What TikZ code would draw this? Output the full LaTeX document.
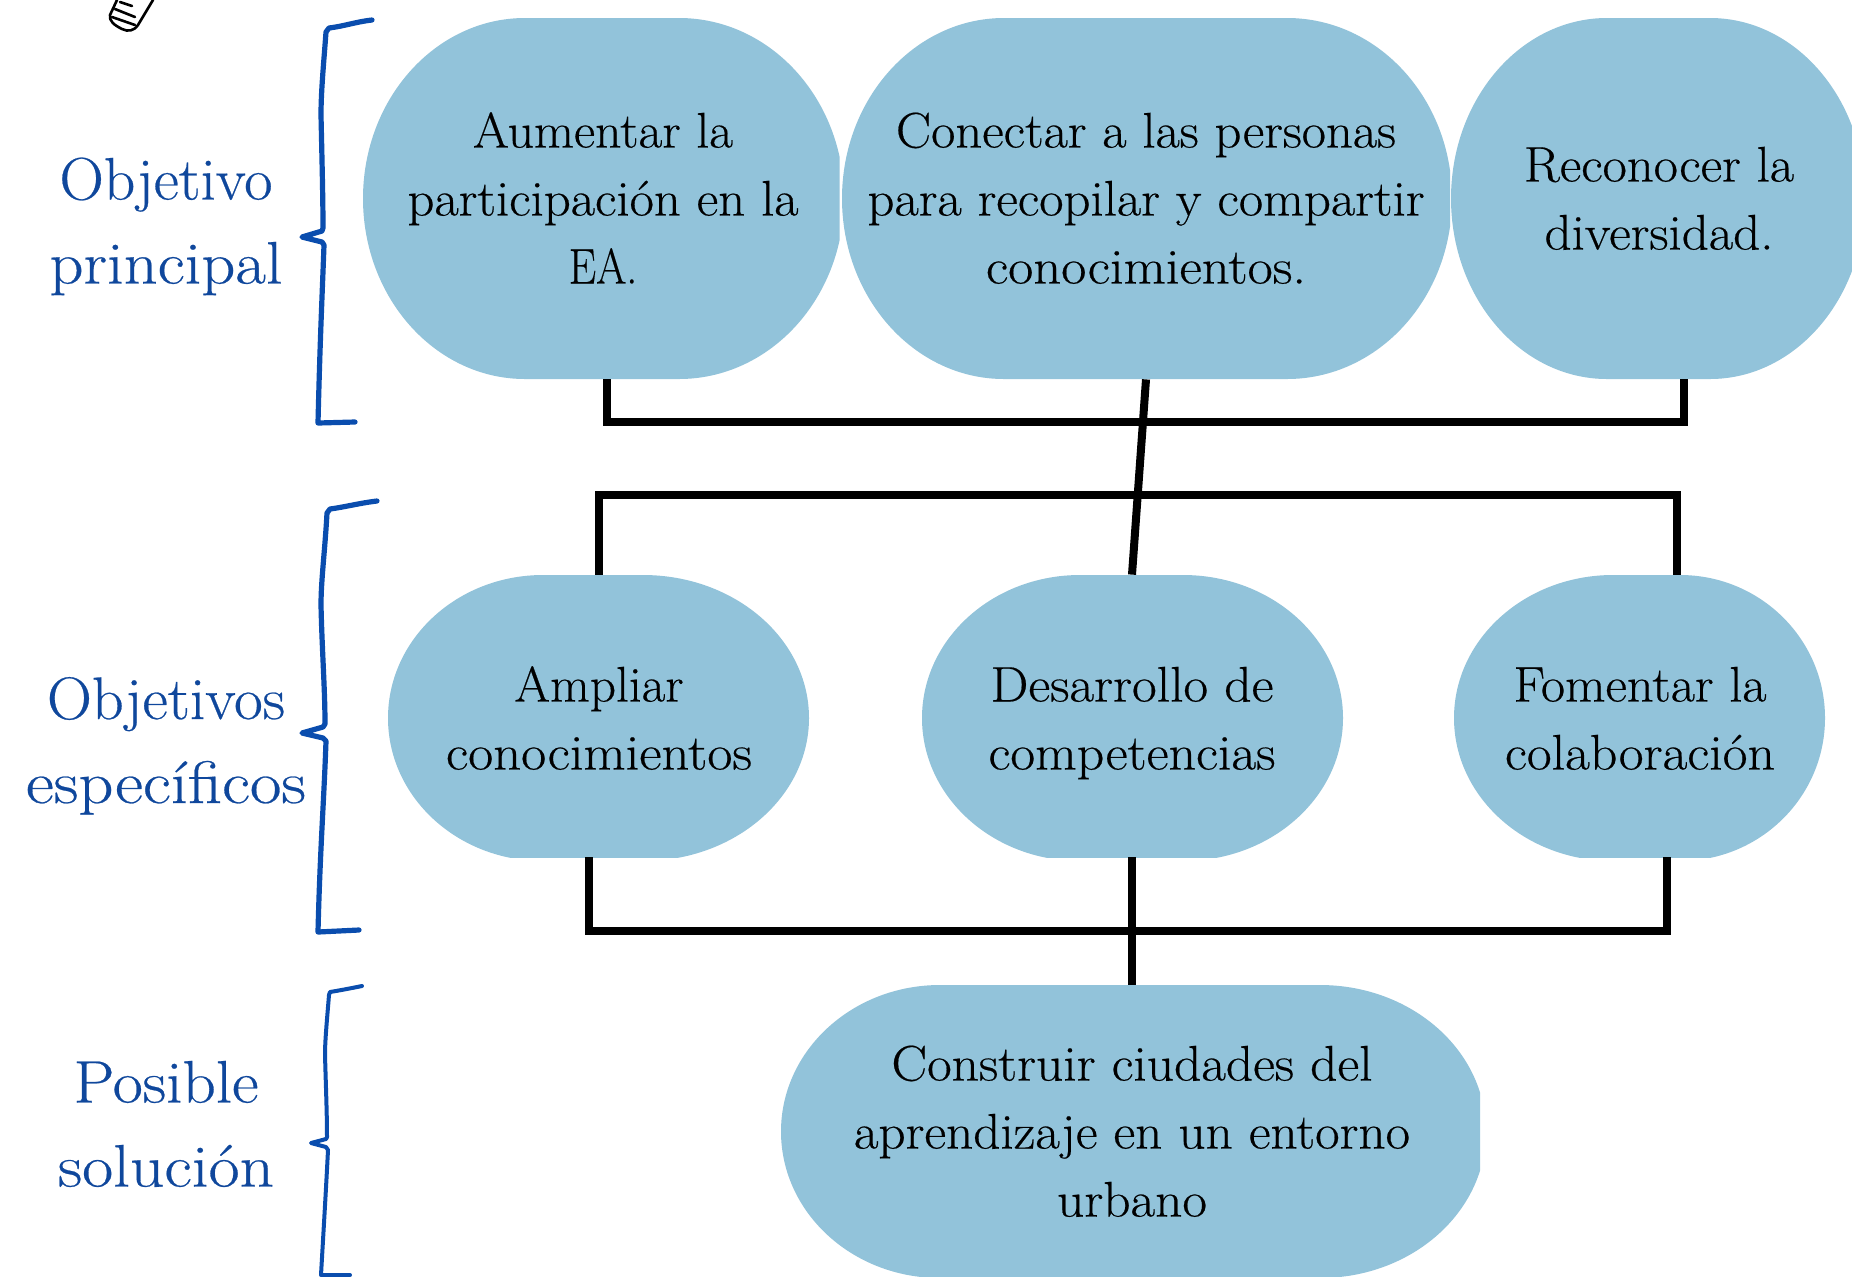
\documentclass[tikz,border=0pt]{standalone}
\usepackage{graphicx}
\usepackage{fontspec}
\setmainfont{Latin Modern Roman}[FakeBold=0.4]
\definecolor{blobblue}{HTML}{92C3DA}
\definecolor{labelblue}{HTML}{0F479C}
\definecolor{braceblue}{HTML}{0A4DAE}
\newcommand\tw[2]{\rule[-7.5pt]{0pt}{25pt}\resizebox{\dimexpr#1pt/2\relax}{\height}{#2}}
\newcommand\twh[3]{\rule[-7.5pt]{0pt}{#1pt}\resizebox{\dimexpr#2pt/2\relax}{\height}{#3}}
% xl yt xr yb flatL flatR clipR clipB
\newcommand\blobshape[8]{%
  \pgfmathsetmacro\yc{(#2+#4)/2}%
  \pgfmathsetmacro\kl{0.5523*(#5-#1)}%
  \pgfmathsetmacro\kr{0.5523*(#3-#6)}%
  \pgfmathsetmacro\ky{0.5523*(#4-#2)/2}%
  \begin{scope}
    \clip (#1-4,#2-4) rectangle (#7,#8);
    \fill[blobblue] (#1,\yc)
      .. controls (#1,\yc-\ky) and (#5-\kl,#2) .. (#5,#2) -- (#6,#2)
      .. controls (#6+\kr,#2) and (#3,\yc-\ky) .. (#3,\yc)
      .. controls (#3,\yc+\ky) and (#6+\kr,#4) .. (#6,#4) -- (#5,#4)
      .. controls (#5-\kl,#4) and (#1,\yc+\ky) .. (#1,\yc) -- cycle;
  \end{scope}}
\tikzset{
  blobtext/.style={inner sep=0pt,align=center,text=black,minimum width=60pt,
    font=\fontsize{25}{34}\selectfont},
  sidelabel/.style={inner sep=0pt,align=center,text=labelblue,
    font=\fontsize{30}{42}\selectfont},
  link/.style={draw=black,line width=4pt,line join=miter},
  bracestroke/.style={draw=braceblue,line width=2.6pt,line join=round,line cap=round},
  pencil/.style={draw=black,line width=1.3pt,line join=round,line cap=round}
}
\begin{document}
\begin{tikzpicture}[x=0.5pt,y=-0.5pt]
\clip (0,0) rectangle (1852,1276);
\fill[white] (0,0) rectangle (1852,1276);

% pencil fragment
\draw[pencil] (153,0) -- (138,25) .. controls (134,31) and (128,32) .. (122,29)
  .. controls (114,25) and (109,21) .. (110,15) -- (117,0);
\draw[pencil] (120,2) -- (132,6);
\draw[pencil] (115,9) -- (135,17);
\draw[pencil] (112,17) -- (135,25);

% blobs
\blobshape{363}{18}{844}{379}{525}{679}{839.5}{379}
\node[blobtext,minimum height=180.5pt] (a) at (603,198.5)
  {\twh{32}{260}{Aumentar la}\\\tw{391}{participación en la}\\\tw{68.5}{EA.}};
\blobshape{842}{18}{1452}{379}{1004}{1287}{1450}{379}
\node[blobtext,minimum height=180.5pt] (b) at (1146,198.5)
  {\twh{32}{500}{Conectar a las personas}\\\tw{557}{para recopilar y compartir}\\\tw{320}{conocimientos.}};
\blobshape{1451}{18}{1865}{379}{1607}{1710}{1852}{379}
\node[blobtext,minimum height=180.5pt] (c) at (1659,198.5)
  {\twh{32}{270}{Reconocer la}\\\tw{229}{diversidad.}};

\blobshape{388}{575}{809}{861}{543}{643}{809}{857}
\node[blobtext,minimum height=141pt] (d) at (599,716)
  {\twh{34.5}{169}{Ampliar}\\\tw{306}{conocimientos}};
\blobshape{922}{575}{1343}{861}{1080}{1183}{1343}{857}
\node[blobtext,minimum height=141pt] (e) at (1132,716)
  {\twh{34.5}{283}{Desarrollo de}\\\tw{287}{competencias}};
\blobshape{1454}{575}{1825}{861}{1613}{1680}{1825}{857}
\node[blobtext,minimum height=141pt] (f) at (1640,716)
  {\twh{34.5}{253}{Fomentar la}\\\tw{270}{colaboración}};

\blobshape{781}{985}{1486}{1278}{940}{1320}{1480}{1276}
\node[blobtext,minimum height=146.5pt] (g) at (1132,1131.5)
  {\twh{32}{481}{Construir ciudades del}\\\tw{556}{aprendizaje en un entorno}\\\tw{150}{urbano}};

% connectors
\coordinate (barAl) at (607,422);
\coordinate (barAr) at (1684,422);
\coordinate (barBl) at (599,495);
\coordinate (barBr) at (1677,495);
\coordinate (barCl) at (589,931);
\coordinate (barCr) at (1667,931);
\draw[link] (barAl |- a.south) -- (barAl) -- (barAr) -- (barAr |- c.south);
\draw[link] (barBl |- d.north) -- (barBl) -- (barBr) -- (barBr |- f.north);
\draw[link] (barCl |- d.south) -- (barCl) -- (barCr) -- (barCr |- f.south);
\draw[link] (b.south) -- (e.north);
\draw[link] (e.south) -- (g.north);

% side labels
\node[sidelabel] (l1) at (166,225.5) {\twh{31}{213}{Objetivo}\\\tw{233}{principal}};
\node[sidelabel] (l2) at (166,745) {\twh{31}{238}{Objetivos}\\\tw{280}{específicos}};
\node[sidelabel] (l3) at (166,1128.5) {\twh{31}{185}{Posible}\\\tw{216}{solución}};

% braces
\draw[bracestroke] (372,20) .. controls (355,22) and (345,26) .. (329,28) -- (326,32)
  .. controls (324,60) and (321,90) .. (321,115) .. controls (322,160) and (323,200) .. (323,228)
  -- (322,231) -- (302,237) -- (322,242) -- (324,245)
  .. controls (322,300) and (320,340) .. (318,423) -- (355,422);
\draw[bracestroke] (377,501) .. controls (360,503) and (345,507) .. (330,509) -- (327,513)
  .. controls (325,550) and (321,580) .. (321,605) .. controls (322,650) and (325,690) .. (325,724)
  -- (323,727) -- (302,733) -- (323,738) -- (326,741)
  .. controls (324,800) and (320,850) .. (318,932) -- (359,930);
\draw[bracestroke,line width=2pt] (362,986) .. controls (352,988) and (342,990) .. (330,992) -- (329,995)
  .. controls (327,1020) and (325,1040) .. (325,1055) .. controls (326,1090) and (327,1115) .. (327,1137)
  -- (326,1139) -- (311,1143) -- (326,1147) -- (328,1150)
  .. controls (326,1190) and (323,1240) .. (321,1275) -- (350,1275);
\end{tikzpicture}
\end{document}
